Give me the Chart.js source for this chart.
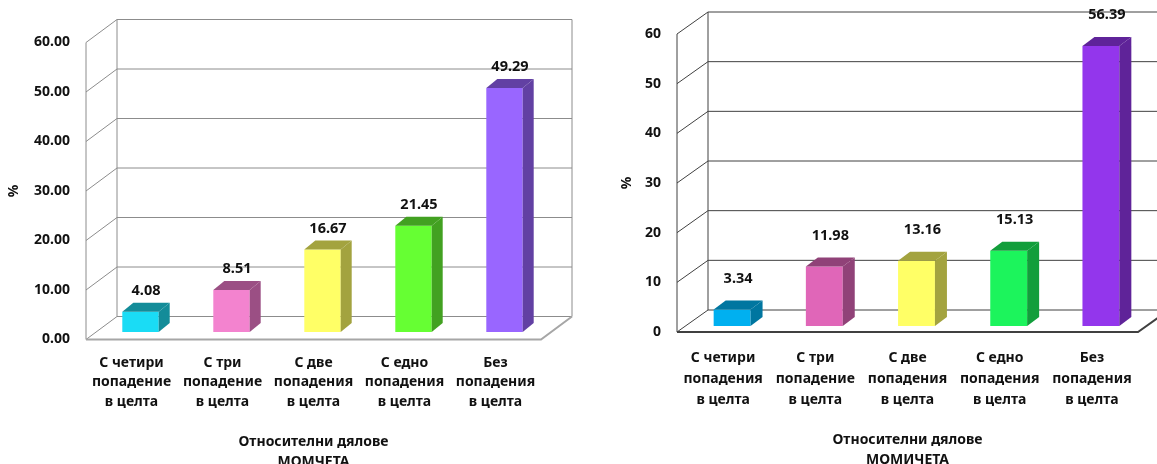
<!DOCTYPE html>
<html>
<head>
<meta charset="utf-8">
<script src="https://cdn.jsdelivr.net/npm/chart.js@4/dist/chart.umd.min.js"></script>
<style>
  html, body { margin: 0; padding: 0; background: #fff; }
  #wrap { position: relative; width: 1157px; height: 464px; overflow: hidden; }
  canvas { position: absolute; top: 0; }
</style>
</head>
<body>
<div id="wrap">
  <canvas id="boys" width="580" height="464" style="left:0"></canvas>
  <canvas id="girls" width="577" height="464" style="left:580px"></canvas>
</div>
<script>
// data
var categoriesBoys = [
    ['С четири', 'попадение', 'в целта'],
    ['С три', 'попадение', 'в целта'],
    ['С две', 'попадения', 'в целта'],
    ['С едно', 'попадения', 'в целта'],
    ['Без', 'попадения', 'в целта']
];
var categoriesGirls = [
    ['С четири', 'попадения', 'в целта'],
    ['С три', 'попадение', 'в целта'],
    ['С две', 'попадения', 'в целта'],
    ['С едно', 'попадения', 'в целта'],
    ['Без', 'попадения', 'в целта']
];
var boysValues = [4.08, 8.51, 16.67, 21.45, 49.29];
var girlsValues = [3.34, 11.98, 13.16, 15.13, 56.39];
var yMin = 0, yMax = 60, yStep = 10;
var yTitle = '%';
var xTitleBoys = ['Относителни дялове', 'МОМЧЕТА'];
var xTitleGirls = ['Относителни дялове', 'МОМИЧЕТА'];

// colours: front, side, top
var boysFront = ['#1adcf5', '#f383cf', '#ffff66', '#66ff33', '#9966ff'];
var boysSide  = ['#138c99', '#9b4f84', '#a3a33f', '#42a121', '#6240a3'];
var boysTop   = ['#17a8ba', '#bb64a0', '#c4c44f', '#4dbf26', '#7850c4'];
var girlsFront = ['#00b0f0', '#e066b8', '#ffff66', '#1cf45c', '#9336ec'];
var girlsSide  = ['#0076a0', '#904278', '#a3a33f', '#129e3b', '#5f2399'];
var girlsTop   = ['#0090c4', '#b05090', '#c4c44f', '#16c04a', '#7529be'];

var FONT = '"Noto Sans", "DejaVu Sans", sans-serif';
var TEXT = '#111';

function quad(ctx, pts) {
    ctx.beginPath();
    ctx.moveTo(pts[0][0], pts[0][1]);
    for (var i = 1; i < pts.length; i++) ctx.lineTo(pts[i][0], pts[i][1]);
    ctx.closePath();
    ctx.fill();
}

// draws the 3d walls, the bar sides/tops and the value labels
function box3d(o) {
    return {
        id: 'box3d',
        beforeDatasetsDraw: function (chart) {
            var ctx = chart.ctx, a = chart.chartArea, y = chart.scales.y, d = o.depth;
            ctx.save();
            ctx.strokeStyle = o.gridColor;
            ctx.lineWidth = 1;
            ctx.beginPath();
            y.ticks.forEach(function (t) {
                var py = y.getPixelForValue(t.value);
                ctx.moveTo(a.left, py);
                ctx.lineTo(a.left + d.x, py + d.y);
                ctx.lineTo(a.right + d.x, py + d.y);
            });
            ctx.moveTo(a.left, a.top);
            ctx.lineTo(a.left, a.bottom);
            ctx.moveTo(a.left + d.x, a.top + d.y);
            ctx.lineTo(a.left + d.x, a.bottom + d.y);
            ctx.moveTo(a.right + d.x, a.top + d.y);
            ctx.lineTo(a.right + d.x, a.bottom + d.y);
            ctx.stroke();
            ctx.strokeStyle = o.floorColor;
            ctx.lineWidth = 2;
            ctx.beginPath();
            ctx.moveTo(a.left, a.bottom);
            ctx.lineTo(a.right, a.bottom);
            ctx.lineTo(a.right + d.x, a.bottom + d.y);
            ctx.stroke();
            ctx.restore();
            // bars sit a bit deeper than the front plane
            ctx.save();
            ctx.translate(o.barShift.x, o.barShift.y);
        },
        afterDatasetsDraw: function (chart) {
            var ctx = chart.ctx, b = o.barDepth;
            var meta = chart.getDatasetMeta(0);
            var values = chart.data.datasets[0].data;
            meta.data.forEach(function (bar, i) {
                var p = bar.getProps(['x', 'y', 'base', 'width'], true);
                var x0 = p.x - p.width / 2, x1 = p.x + p.width / 2;
                ctx.fillStyle = o.side[i];
                quad(ctx, [[x1, p.y], [x1 + b.x, p.y + b.y], [x1 + b.x, p.base + b.y], [x1, p.base]]);
                ctx.fillStyle = o.top[i];
                quad(ctx, [[x0, p.y], [x1, p.y], [x1 + b.x, p.y + b.y], [x0 + b.x, p.y + b.y]]);
            });
            ctx.fillStyle = TEXT;
            ctx.font = 'bold 14.5px ' + FONT;
            ctx.textAlign = 'center';
            ctx.textBaseline = 'middle';
            meta.data.forEach(function (bar, i) {
                var p = bar.getProps(['x', 'y'], true);
                ctx.fillText(values[i].toFixed(2), p.x + b.x / 2, p.y + b.y + o.labelGap);
            });
            ctx.restore();
        }
    };
}

function makeChart(id, labels, values, cfg) {
    var canvas = document.getElementById(id);
    return new Chart(canvas.getContext('2d'), {
        type: 'bar',
        data: {
            labels: labels,
            datasets: [{
                data: values,
                backgroundColor: cfg.front,
                borderWidth: 0,
                categoryPercentage: 0.8,
                barPercentage: 0.5
            }]
        },
        options: {
            responsive: false,
            animation: false,
            devicePixelRatio: 1,
            layout: { padding: { left: 0, top: cfg.top, right: cfg.right, bottom: 0 } },
            plugins: { legend: { display: false }, tooltip: { enabled: false } },
            scales: {
                x: {
                    grid: { display: false, drawTicks: false },
                    border: { display: false },
                    ticks: {
                        color: TEXT, padding: cfg.xTickPad, maxRotation: 0, autoSkip: false,
                        font: { family: FONT, size: 14, weight: 'bold', lineHeight: cfg.xLine }
                    },
                    title: {
                        display: true, text: cfg.xTitle, color: TEXT,
                        padding: { top: 0, bottom: cfg.xTitlePad },
                        font: { family: FONT, size: 14, weight: 'bold', lineHeight: 1.43 }
                    },
                    afterFit: function (s) { s.height = cfg.xHeight; }
                },
                y: {
                    min: yMin, max: yMax,
                    grid: { display: false, drawTicks: false },
                    border: { display: false },
                    ticks: {
                        stepSize: yStep, color: TEXT, padding: 16,
                        font: { family: FONT, size: 14, weight: 'bold' },
                        callback: function (v) { return cfg.decimals ? v.toFixed(2) : String(v); }
                    },
                    title: {
                        display: true, text: yTitle, color: TEXT,
                        padding: { top: cfg.yTitlePad, bottom: 0 },
                        font: { family: FONT, size: 14, weight: 'bold' }
                    },
                    afterFit: function (s) { s.width = cfg.yWidth; }
                }
            }
        },
        plugins: [box3d(cfg)]
    });
}

makeChart('boys', categoriesBoys, boysValues, {
    front: boysFront, side: boysSide, top: boysTop,
    top: 42.5, right: 39, yWidth: 86, xHeight: 124.5,
    xTickPad: 13.5, xLine: 1.393, xTitle: xTitleBoys, xTitlePad: -8, yTitlePad: 6,
    decimals: true,
    depth: { x: 31, y: -23 }, barShift: { x: 9, y: -7.5 }, barDepth: { x: 11, y: -9 },
    gridColor: '#8c8c8c', floorColor: '#a6a6a6', labelGap: -12
});

makeChart('girls', categoriesGirls, girlsValues, {
    front: girlsFront, side: girlsSide, top: girlsTop,
    top: 34, right: 19, yWidth: 97, xHeight: 132,
    xTickPad: 15.5, xLine: 1.5, xTitle: xTitleGirls, xTitlePad: -6, yTitlePad: 39,
    decimals: false,
    depth: { x: 31, y: -22 }, barShift: { x: 9, y: -6 }, barDepth: { x: 12, y: -9 },
    gridColor: '#404040', floorColor: '#404040', labelGap: -22
});
</script>
</body>
</html>
